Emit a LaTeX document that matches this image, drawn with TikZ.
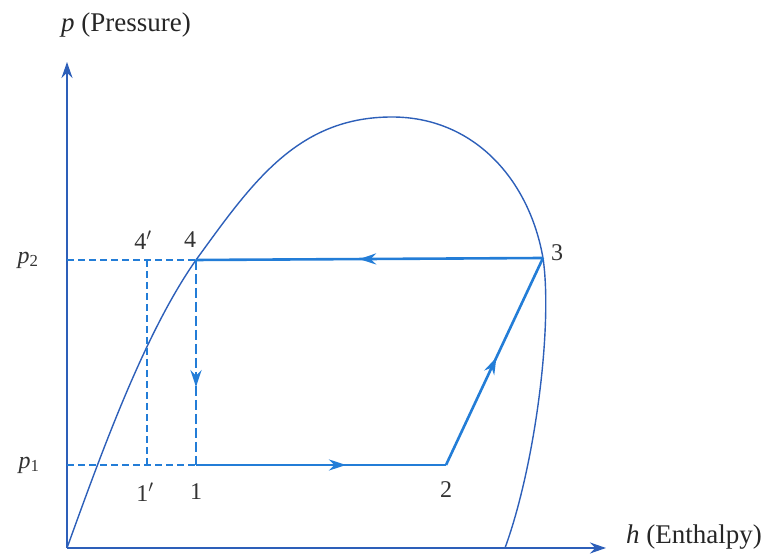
\documentclass[tikz,border=0pt]{standalone}
\usepackage{fontspec}
\setmainfont{Liberation Serif}
\usetikzlibrary{arrows.meta,decorations.markings}

\definecolor{axisblue}{RGB}{45,95,185}
\definecolor{cycblue}{RGB}{35,125,215}

\tikzset{
  axis/.style={draw=axisblue, line width=1.8pt, -{Stealth[length=16pt,width=11pt]}},
  dome/.style={draw=axisblue, line width=1.4pt},
  cyc/.style={draw=cycblue, line width=2.6pt},
  guide/.style={draw=cycblue, line width=1.4pt, dash pattern=on 7pt off 4pt},
  midarrow/.style={postaction={decorate}, decoration={markings,
      mark=at position #1 with {\arrow{Stealth[length=17pt,width=11pt]}}}},
  lbl/.style={font=\fontsize{24}{28}\selectfont, text=black!80, inner sep=2pt},
  axlbl/.style={font=\fontsize{27}{31}\selectfont, text=black!85, inner sep=2pt},
}

\begin{document}
\begin{tikzpicture}[x=1pt, y=1pt]
    \useasboundingbox (0,0) rectangle (772,556);

    % points of the cycle
    \coordinate (O) at (67,8);
    \coordinate (P4) at (196,296);
    \coordinate (P4p) at (147,296);
    \coordinate (P1) at (196,91);
    \coordinate (P1p) at (147,91);
    \coordinate (P2) at (446,91);
    \coordinate (P3) at (543,298);
    \coordinate (Top) at (392,439);
    \coordinate (Hend) at (505,8);
    \coordinate (Yp2) at (67,296);
    \coordinate (Yp1) at (67,91);

    % axes
    \draw[axis] (O) -- (67,494) coordinate (Ytip);
    \draw[axis] (O) -- (606,8) coordinate (Xtip);
    \node[axlbl] (ylab) at (126,531) {\textit{p} (Pressure)};
    \node[axlbl, anchor=base west] (xlab) at (624,12) {\textit{h} (Enthalpy)};

    % saturation dome
    \draw[dome] (O) .. controls (101,102) and (144,222) .. (P4)
        to[out=54, in=180] (Top) to[out=0, in=100] (P3)
        .. controls (553,230) and (535,90) .. (Hend);

    % dashed guides
    \draw[guide] (Yp2) -- (P4);
    \draw[guide] (Yp1) -- (P1);
    \draw[guide] (P4p) -- (P1p);
    \draw[guide, line width=2.4pt, dash pattern=on 10pt off 4pt, midarrow=0.62] (P4) -- (P1);

    % cycle
    \draw[cyc, midarrow=0.6] (P1) -- (P2);
    \draw[cyc, midarrow=0.52] (P2) -- (P3);
    \draw[cyc, midarrow=0.53] (P3) -- (P4);

    % labels
    \node[lbl] (lp2) at (28,296) {\textit{p}\textsubscript{2}};
    \node[lbl] (lp1) at (29,91) {\textit{p}\textsubscript{1}};
    \node[lbl] (l4p) at (143,316) {4$'$};
    \node[lbl] (l4) at (190,316) {4};
    \node[lbl] (l1p) at (145,64) {1$'$};
    \node[lbl] (l1) at (196,64) {1};
    \node[lbl] (l2) at (446,66) {2};
    \node[lbl] (l3) at (557,303) {3};

\end{tikzpicture}
\end{document}
